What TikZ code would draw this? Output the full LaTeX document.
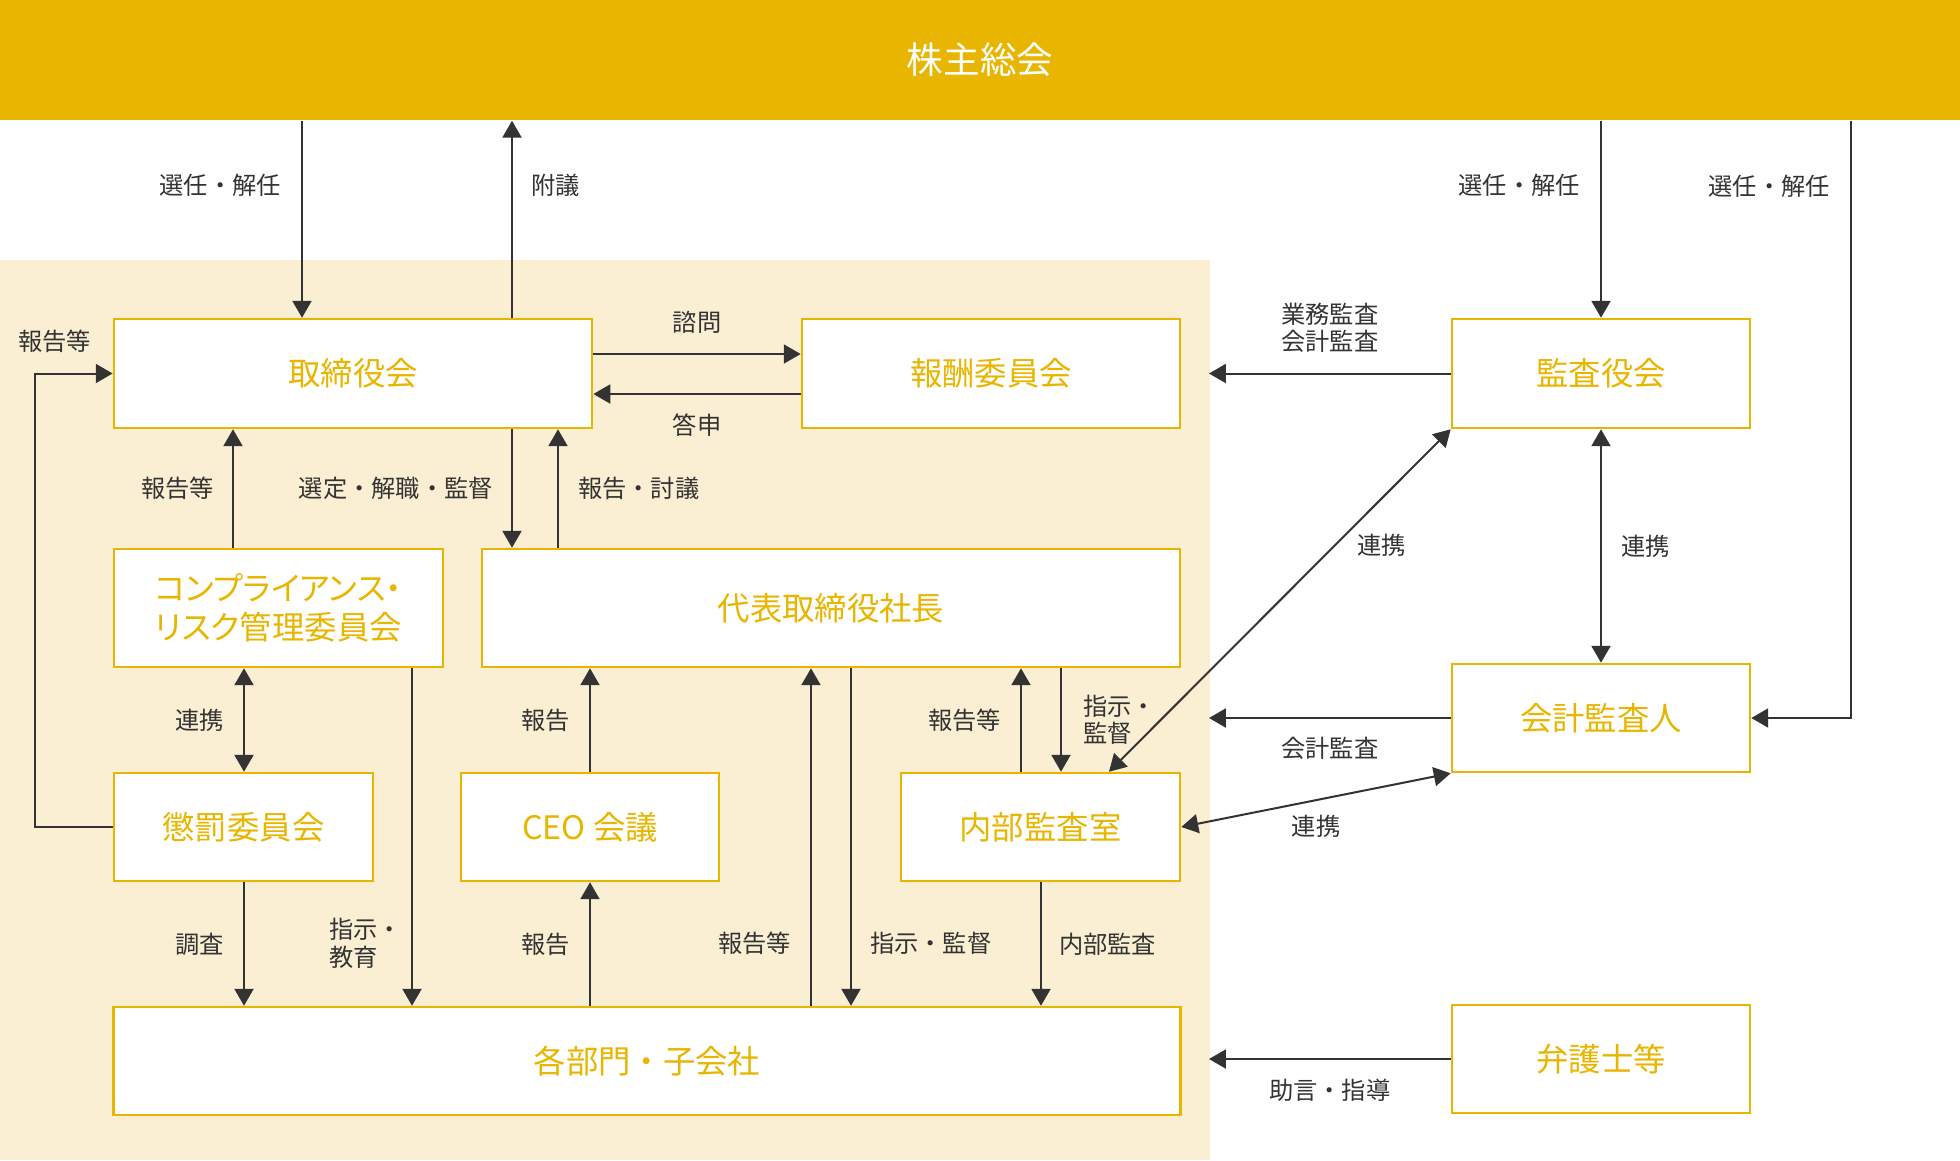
\documentclass[tikz,border=0pt]{standalone}
\usepackage{fontspec}
\setmainfont{Noto Sans CJK JP}
\newfontfamily\propfont[RawFeature=+palt]{Noto Sans CJK JP}
\usepackage{tikz}
\usetikzlibrary{calc}
\usetikzlibrary{arrows.meta}
\definecolor{gold}{RGB}{232,181,0}
\definecolor{beige}{RGB}{251,239,211}
\definecolor{ink}{RGB}{51,51,51}
\tikzset{
  box/.style={draw=gold, line width=0.7pt, fill=white, text=gold, align=center, inner sep=0pt,
    font=\fontsize{9.2pt}{11.3pt}\selectfont},
  lbl/.style={text=ink, inner sep=0pt, align=left, font=\fontsize{6.9pt}{7.8pt}\selectfont},
  arr/.style={ink, line width=0.57pt, -{Triangle[length=4.8pt,width=5.4pt]}},
  arrs/.style={ink, line width=0.57pt, {Triangle[length=4.8pt,width=5.4pt]}-{Triangle[length=4.8pt,width=5.4pt]}}
}

\begin{document}
\begin{tikzpicture}[x=0.01cm, y=-0.01cm]

\useasboundingbox (0,0) rectangle (1960,1160);
\fill[beige] (0,260) rectangle (1210,1160);

\node[fill=gold, text=white, inner sep=0pt, minimum width=19.6cm, minimum height=1.2cm,
  font=\fontsize{10.4pt}{12pt}\selectfont] (soukai) at (980,60) {株主総会};

\node[box, minimum width=4.78cm, minimum height=1.09cm] (tor) at (353,373.5) {取締役会};
\node[box, minimum width=3.78cm, minimum height=1.09cm] (hoshu) at (991,373.5) {報酬委員会};
\node[box, minimum width=2.98cm, minimum height=1.09cm] (kansa) at (1601,373.5) {監査役会};
\node[box, minimum width=3.29cm, minimum height=1.18cm, font=\propfont\fontsize{9.2pt}{11.3pt}\selectfont] (comp) at (278.5,608) {コンプライアンス・\\リスク管理委員会};
\node[box, minimum width=6.98cm, minimum height=1.18cm] (dai) at (831,608) {代表取締役社長};
\node[box, minimum width=2.98cm, minimum height=1.08cm] (kaikei) at (1601,718) {会計監査人};
\node[box, minimum width=2.59cm, minimum height=1.08cm] (chobatsu) at (243.5,827) {懲罰委員会};
\node[box, minimum width=2.58cm, minimum height=1.08cm] (ceo) at (590,827) {CEO 会議};
\node[box, minimum width=2.79cm, minimum height=1.08cm] (naibu) at (1040.5,827) {内部監査室};
\node[box, minimum width=10.66cm, minimum height=1.08cm] (kakubu) at (647,1061) {各部門・子会社};
\node[box, minimum width=2.98cm, minimum height=1.08cm] (bengo) at (1601,1059) {弁護士等};

\coordinate (edge) at (1209,0);

\draw[arr] (302,0 |- soukai.south) -- (302,0 |- tor.north) node[lbl, left=0.2cm, pos=0.33] (l1) {選任・解任};
\draw[arr] (512,0 |- tor.north) -- (512,0 |- soukai.south) node[lbl, right=0.18cm, pos=0.67] (l2) {附議};
\draw[arr] (1601,0 |- soukai.south) -- (kansa.north) node[lbl, left=0.2cm, pos=0.33] (l3) {選任・解任};
\draw[arr] (1851,0 |- soukai.south) |- (kaikei.east) node[lbl, left=0.2cm, pos=0.055] (l4) {選任・解任};

\draw[arr] (tor.east |- 0,354) -- (hoshu.west |- 0,354) node[lbl, above=0.2cm, midway] (l5) {諮問};
\draw[arr] (hoshu.west |- 0,394) -- (tor.east |- 0,394) node[lbl, below=0.19cm, midway] (l6) {答申};
\draw[arr] (kansa.west) -- (kansa.west -| edge) node[lbl, above=0.2cm, midway] (l7) {業務監査\\会計監査};
\draw[arr] (chobatsu.west) -- (35,0 |- chobatsu.west) |- (tor.west) node[lbl, above=0.2cm, pos=0.627] (l8) {報告等};

\draw[arr] (233,0 |- comp.north) -- (233,0 |- tor.south) node[lbl, left=0.18cm, midway] (l9) {報告等};
\draw[arr] (512,0 |- tor.south) -- (512,0 |- dai.north) node[lbl, left=0.18cm, midway] (l10) {選定・解職・監督};
\draw[arr] (558,0 |- dai.north) -- (558,0 |- tor.south) node[lbl, right=0.19cm, midway] (l11) {報告・討議};

\draw[arrs] (244,0 |- comp.south) -- (244,0 |- chobatsu.north) node[lbl, left=0.19cm, midway] (l12) {連携};
\draw[arr] (ceo.north) -- (ceo.north |- dai.south) node[lbl, left=0.19cm, midway] (l13) {報告};
\draw[arr] (1021,0 |- naibu.north) -- (1021,0 |- dai.south) node[lbl, left=0.19cm, midway] (l14) {報告等};
\draw[arr] (1061,0 |- dai.south) -- (1061,0 |- naibu.north) node[lbl, right=0.21cm, midway] (l15) {指示・\\監督};

\draw[arrs] (kansa.south west) -- (1109,0 |- naibu.north) node[lbl, right=0.22cm, pos=0.34] (l16) {連携};
\draw[arrs] (kansa.south) -- (kaikei.north) node[lbl, right=0.19cm, midway] (l17) {連携};
\draw[arr] (kaikei.west) -- (kaikei.west -| edge) node[lbl, below=0.18cm, midway] (l18) {会計監査};
\draw[arrs] (naibu.east) -- (kaikei.south west) node[lbl, below=0.14cm, midway] (l19) {連携};

\draw[arr] (244,0 |- chobatsu.south) -- (244,0 |- kakubu.north) node[lbl, left=0.19cm, midway] (l20) {調査};
\draw[arr] (412,0 |- comp.south) -- (412,0 |- kakubu.north) node[lbl, left=0.09cm, pos=0.815] (l21) {指示・\\教育};
\draw[arr] (kakubu.north -| ceo.south) -- (ceo.south) node[lbl, left=0.19cm, midway] (l22) {報告};
\draw[arr] (811,0 |- kakubu.north) -- (811,0 |- dai.south) node[lbl, left=0.19cm, pos=0.185] (l23) {報告等};
\draw[arr] (851,0 |- dai.south) -- (851,0 |- kakubu.north) node[lbl, right=0.18cm, pos=0.815] (l24) {指示・監督};
\draw[arr] (1041,0 |- naibu.south) -- (1041,0 |- kakubu.north) node[lbl, right=0.17cm, midway] (l25) {内部監査};
\draw[arr] (bengo.west) -- (bengo.west -| edge) node[lbl, below=0.19cm, midway] (l26) {助言・指導};

\end{tikzpicture}
\end{document}
